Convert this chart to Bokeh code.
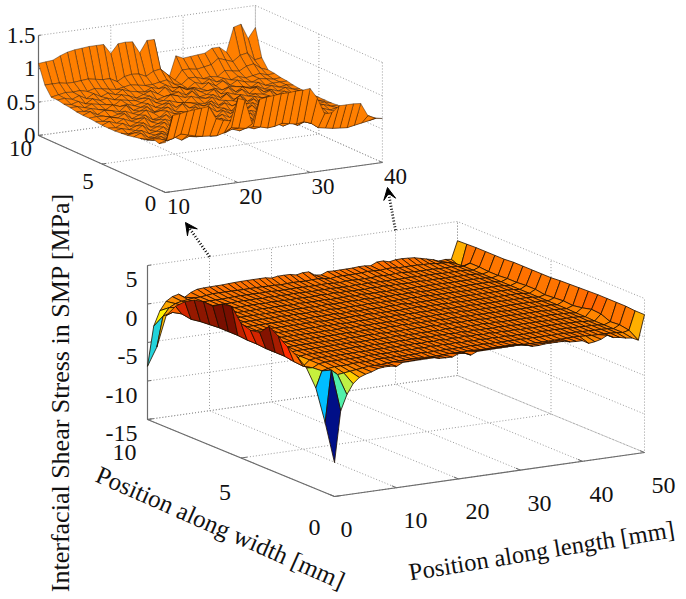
import math
import numpy as np
from bokeh.plotting import figure
from bokeh.models import Arrow, VeeHead, ColumnDataSource, Range1d
from bokeh.core.properties import value
from bokeh.embed import file_html
from bokeh.resources import INLINE

FONT = "Liberation Serif"

# ---------- data ----------
width_mm = [0.5 * j for j in range(21)]          # 0 .. 10 mm, columns
length_mm = list(range(51))                      # 0 .. 50 mm, rows

main_x_ticks = [0, 10, 20, 30, 40, 50]
main_y_ticks = [0, 5, 10]
main_z_ticks = [-15, -10, -5, 0, 5]
inset_x_ticks = [10, 20, 30, 40]
inset_y_ticks = [0, 5, 10]
inset_z_ticks = [0, 0.5, 1, 1.5]

# stress, hundredths of MPa; one row per mm of length, x = 10 .. 40; columns y = 0 .. 10 by 0.5
inset_stress = [
 [75,69,72,67,64,62,60,59,58,58,58,59,60,60,61,63,64,66,66,80,108],
 [114,72,70,64,60,66,62,56,60,57,62,58,61,64,60,63,62,67,68,80,109],
 [115,74,66,68,62,58,64,60,57,62,58,63,60,58,63,60,65,64,70,80,110],
 [117,79,70,62,67,60,58,66,61,56,63,60,57,63,60,64,60,68,69,78,115],
 [118,76,64,70,61,64,60,57,64,60,58,65,60,61,58,62,66,62,70,78,119],
 [119,73,68,62,66,58,65,61,56,66,60,56,63,58,64,60,62,68,67,79,121],
 [120,71,66,70,60,64,57,66,60,58,64,60,58,66,60,57,64,62,70,80,122],
 [100,70,72,62,68,60,62,58,65,60,56,66,60,57,62,64,60,66,68,78,123],
 [96,69,64,70,62,66,58,64,60,66,58,60,65,60,58,62,66,62,66,76,123],
 [94,72,68,63,68,60,66,57,63,58,66,62,56,64,61,60,63,68,64,76,123],
 [126,78,66,72,60,67,58,65,60,64,60,66,60,57,66,62,58,64,66,70,108],
 [122,76,70,64,70,60,64,58,68,60,62,58,66,60,58,64,62,62,68,76,121],
 [85,74,66,72,62,68,58,66,58,64,60,68,58,64,60,57,66,60,66,78,122],
 [120,75,70,64,72,58,66,60,68,58,66,60,64,60,67,60,60,65,64,77,121],
 [122,73,66,72,60,68,60,66,58,68,58,64,62,58,64,62,68,62,64,72,103],
 [123,70,72,62,70,62,66,60,66,60,68,60,60,66,60,64,60,66,66,78,120],
 [124,71,66,70,64,68,58,68,60,64,60,66,58,62,68,58,66,60,68,80,120],
 [124,74,70,64,72,60,68,58,66,58,66,58,66,60,58,66,60,60,60,70,67],
 [125,72,64,70,62,68,60,66,60,68,60,64,60,64,60,60,62,56,58,60,58],
 [125,70,68,62,70,58,66,62,68,58,64,62,68,58,66,60,58,64,66,74,91],
 [126,72,62,68,60,66,58,68,58,66,60,68,58,64,58,62,66,60,66,74,86],
 [110,68,66,60,68,60,66,58,64,60,66,58,64,60,66,58,60,66,62,72,87],
 [85,60,62,66,58,64,60,68,58,66,58,64,60,66,58,62,66,60,64,74,88],
 [85,58,64,58,66,58,66,60,64,58,66,60,62,58,64,60,58,64,62,76,89],
 [94,56,60,62,58,64,56,62,58,66,56,62,60,66,60,58,64,60,70,84,95],
 [94,55,62,56,62,58,62,56,64,58,60,56,64,58,62,56,60,64,68,80,95],
 [94,54,58,60,56,60,56,62,56,60,56,62,56,60,56,62,58,60,66,76,86],
 [93,56,60,56,60,56,60,58,60,56,60,56,60,56,60,56,62,62,72,84,122],
 [73,58,58,60,56,58,56,60,56,58,56,58,56,60,56,58,60,64,74,86,125],
 [68,60,60,58,58,56,58,56,58,56,58,56,58,56,58,58,58,60,66,74,102],
 [66,62,61,60,58,57,57,56,55,55,55,55,55,55,56,58,59,61,62,76,117],
]

# stress, MPa; rows x = 0 .. 9
main_stress_left = [
 [-10.6,-5.9,-1.9,.2,1.2,1.9,2.8,3.6,2.3,2.1,2.5,4.2,4,3.2,3.3,3,2.3,1.2,-.5,-5.1,-8.1],
 [-4,.8,.2,.1,-.2,-.1,.1,.1,.1,.2,.2,.3,.3,.3,.2,.1,-.1,.1,-.2,-1.2,-3],
 [-2,.1,.4,.5,.5,.5,.5,.5,.5,.5,.5,.5,.5,.5,.5,.5,.5,.5,.3,-.2,-1.1],
 [-.7,.2,.5,.6,.6,.6,.6,.6,.6,.6,.6,.6,.6,.6,.6,.6,.6,.5,.4,.2,0],
 [0,.3,.5,.6,.6,.6,.6,.6,.6,.6,.6,.6,.6,.6,.6,.6,.6,.6,.5,.4,.5],
 [.3,.4,.5,.6,.6,.6,.6,.6,.6,.6,.6,.6,.6,.6,.6,.6,.6,.6,.5,.5,.7],
 [.5,.5,.6,.6,.6,.6,.6,.6,.6,.6,.6,.6,.6,.6,.6,.6,.6,.6,.6,.6,.2],
 [.8,.6,.6,.6,.6,.6,.6,.6,.6,.6,.6,.6,.6,.6,.6,.6,.6,.6,.6,.6,.7],
 [.9,.6,.6,.6,.6,.6,.6,.6,.6,.6,.6,.6,.6,.6,.6,.6,.6,.6,.6,.7,1],
 [.9,.6,.6,.6,.6,.6,.6,.6,.6,.6,.6,.6,.6,.6,.6,.6,.6,.6,.6,.8,1.05],
]
# stress, MPa; rows x = 41 .. 50
main_stress_right = [
 [.2,.6,.55,.55,.55,.55,.55,.55,.55,.55,.55,.55,.55,.55,.55,.55,.6,.6,.6,.75,1.2],
 [.3,.55,.55,.55,.55,.55,.55,.55,.55,.55,.55,.55,.55,.55,.55,.55,.55,.6,.6,.75,1.15],
 [.5,.5,.5,.5,.55,.55,.55,.55,.55,.55,.55,.55,.55,.55,.55,.55,.55,.55,.6,.7,1.1],
 [.9,.5,.5,.5,.5,.5,.55,.55,.55,.55,.55,.55,.55,.55,.55,.55,.55,.55,.55,.7,.9],
 [.5,.5,.45,.45,.5,.5,.5,.5,.55,.55,.55,.55,.55,.55,.55,.55,.55,.55,.55,.6,.7],
 [.4,.45,.45,.45,.45,.5,.5,.5,.5,.5,.55,.55,.55,.55,.55,.55,.55,.55,.55,.55,.5],
 [.2,.4,.4,.4,.4,.45,.45,.45,.5,.5,.5,.5,.5,.5,.5,.5,.5,.5,.5,.5,.2],
 [.1,.3,.3,.3,.3,.35,.35,.4,.4,.4,.4,.4,.4,.4,.4,.4,.4,.4,.4,.3,.3],
 [-.3,.5,.7,.6,1.1,1.2,.9,.7,.8,.7,.6,.8,.8,.7,.7,.6,.6,.7,.7,-.3,.2],
 [2.9,2.9,3,3,3,3,2.95,2.9,2.85,2.8,2.7,2.7,2.7,2.7,2.7,2.6,2.6,2.6,2.6,2.55,2.5],
]

# colour table: stress value -> colour of a facet (first vertex)
cmap_z = [-10.6, -8, -5.9, -4, -2, -1.2, -.6, 0, .5, 1.2, 1.9, 2.4, 3, 4]
cmap_r = [0, 0, 0, 80, 190, 255, 255, 255, 255, 255, 255, 200, 150, 120]
cmap_g = [15, 70, 190, 240, 240, 240, 200, 150, 122, 100, 45, 35, 25, 15]
cmap_b = [135, 220, 255, 170, 70, 0, 0, 0, 0, 0, 0, 0, 0, 0]

INSET_COLOR = "#FF7F00"
EDGE = "#1f0f00"
GRID = "#9a9a9a"
AXIS = "#6b6b6b"
TEXT = "#111111"

# ---------- projection of the two boxes onto the page ----------
main_o, main_dx, main_dy, main_dz = (334, 496), (6.2, -0.88), (-18.7, -7.7), (0, -7.7)
main_base = -15
inset_o, inset_dx, inset_dy, inset_dz = (165, 192), (7.23, -1.0), (-12.7, -5.7), (0, -66.7)
inset_x0 = 10

def main_pt(x, y, z):
    return (main_o[0] + x * main_dx[0] + y * main_dy[0] + (z - main_base) * main_dz[0],
            main_o[1] + x * main_dx[1] + y * main_dy[1] + (z - main_base) * main_dz[1])

def inset_pt(x, y, z):
    return (inset_o[0] + (x - inset_x0) * inset_dx[0] + y * inset_dy[0] + z * inset_dz[0],
            inset_o[1] + (x - inset_x0) * inset_dx[1] + y * inset_dy[1] + z * inset_dz[1])

def facet_color(z):
    r = int(round(np.interp(z, cmap_z, cmap_r)))
    g = int(round(np.interp(z, cmap_z, cmap_g)))
    b = int(round(np.interp(z, cmap_z, cmap_b)))
    return "#%02x%02x%02x" % (r, g, b)

p = figure(width=686, height=599, output_backend="svg", toolbar_location=None,
           x_range=Range1d(0, 686), y_range=Range1d(599, 0), min_border=0)
p.axis.visible = False
p.grid.visible = False
p.outline_line_color = None
p.background_fill_color = "white"

def box(pt, xt, yt, zt):
    """grid on floor and the two back walls, axis lines and ticks"""
    x0, x1, y0, y1, z0, z1 = xt[0], xt[-1], yt[0], yt[-1], zt[0], zt[-1]
    xs, ys = [], []
    def add(*pts):
        q = [pt(*a) for a in pts]
        xs.append([a[0] for a in q]); ys.append([a[1] for a in q])
    for x in xt:
        add((x, y0, z0), (x, y1, z0), (x, y1, z1))
    for y in yt:
        add((x0, y, z0), (x1, y, z0), (x1, y, z1))
    for z in zt:
        add((x0, y1, z), (x1, y1, z), (x1, y0, z))
    p.multi_line(xs, ys, line_color=GRID, line_width=1, line_dash="1 2")
    xs, ys = [], []
    add((x0, y1, z1), (x0, y1, z0), (x0, y0, z0), (x1, y0, z0))
    p.multi_line(xs, ys, line_color=AXIS, line_width=1.2)
    xs, ys = [], []
    for x in xt:
        add((x, y0, z0), (x, y0 + (y1 - y0) * 0.025, z0))
    for y in yt:
        add((x0, y, z0), (x0 + (x1 - x0) * 0.02, y, z0))
    for z in zt:
        add((x0, y1, z), (x0 + (x1 - x0) * 0.012, y1, z))
    p.multi_line(xs, ys, line_color=AXIS, line_width=1)

def surface(pt, xv, yv, Z, colors, lw, la):
    xs, ys, cs = [], [], []
    for i in range(len(xv) - 2, -1, -1):
        for j in range(len(yv) - 2, -1, -1):
            q = [pt(xv[i], yv[j], Z[i][j]), pt(xv[i + 1], yv[j], Z[i + 1][j]),
                 pt(xv[i + 1], yv[j + 1], Z[i + 1][j + 1]), pt(xv[i], yv[j + 1], Z[i][j + 1])]
            xs.append([a[0] for a in q]); ys.append([a[1] for a in q])
            cs.append(colors(Z[i][j]))
    src = ColumnDataSource(dict(xs=xs, ys=ys, c=cs))
    p.patches("xs", "ys", source=src, fill_color="c", line_color=EDGE, line_width=lw, line_alpha=la)

inset_z = [[v / 100 for v in row] for row in inset_stress]
main_z = main_stress_left + inset_z + main_stress_right

box(inset_pt, inset_x_ticks, inset_y_ticks, inset_z_ticks)
surface(inset_pt, length_mm[10:41], width_mm, inset_z, lambda z: INSET_COLOR, 0.6, 0.7)
box(main_pt, main_x_ticks, main_y_ticks, main_z_ticks)
surface(main_pt, length_mm, width_mm, main_z, facet_color, 0.9, 0.9)

def label(x, y, s, size=24, angle=0.0, align="center"):
    p.text([x], [y], text=[s], text_font=value(FONT), text_font_size=value(f"{size}px"),
           text_align=align, text_baseline="middle", text_color=TEXT, angle=[angle])

# main tick labels
for z, s in zip(main_z_ticks, ["-15", "-10", "-5", "0", "5"]):
    x_, y_ = main_pt(0, 10, z)
    label(x_ - 10, y_ + 14, s, align="right")
for y, s, off in zip(main_y_ticks, ["0", "5", "10"], [(-20, 31), (-16, 34), (-23, 33)]):
    x_, y_ = main_pt(0, y, main_base)
    label(x_ + off[0], y_ + off[1], s)
for x, s in zip(main_x_ticks, ["0", "10", "20", "30", "40", "50"]):
    x_, y_ = main_pt(x, 0, main_base)
    label(x_ + (12 if x == 0 else 19), y_ + 33, s)

# inset tick labels
for z, s in zip(inset_z_ticks, ["0", "0.5", "1", "1.5"]):
    x_, y_ = inset_pt(10, 10, z)
    label(x_ - 3, y_, s, size=23, align="right")
for y, s, off in zip(inset_y_ticks, ["0", "5", "10"], [(-15, 11), (-14, 17), (-18, 13)]):
    x_, y_ = inset_pt(10, y, 0)
    label(x_ + off[0], y_ + off[1], s, size=23)
for x, s in zip(inset_x_ticks, ["10", "20", "30", "40"]):
    x_, y_ = inset_pt(x, 0, 0)
    label(x_ + 13, y_ + 14, s, size=23)

# axis titles
label(60, 392, "Interfacial Shear Stress in SMP [MPa]", size=26, angle=math.pi / 2)
label(220, 527, "Position along width [mm]", size=25, angle=-math.radians(23.8))
label(541, 550, "Position along length [mm]", size=24.5, angle=math.radians(9.3))

# dotted call-outs from the main box to the inset
for xv, head in zip([10, 40], [(185, 222), (387, 187)]):
    tx, ty = main_pt(xv, 10, 5)
    p.add_layout(Arrow(end=VeeHead(size=12, fill_color="black", line_color="black"),
                       x_start=tx, y_start=ty, x_end=head[0], y_end=head[1],
                       line_color="black", line_width=2.8, line_dash="1 2"))

open("out.html", "w").write(file_html(p, INLINE))
